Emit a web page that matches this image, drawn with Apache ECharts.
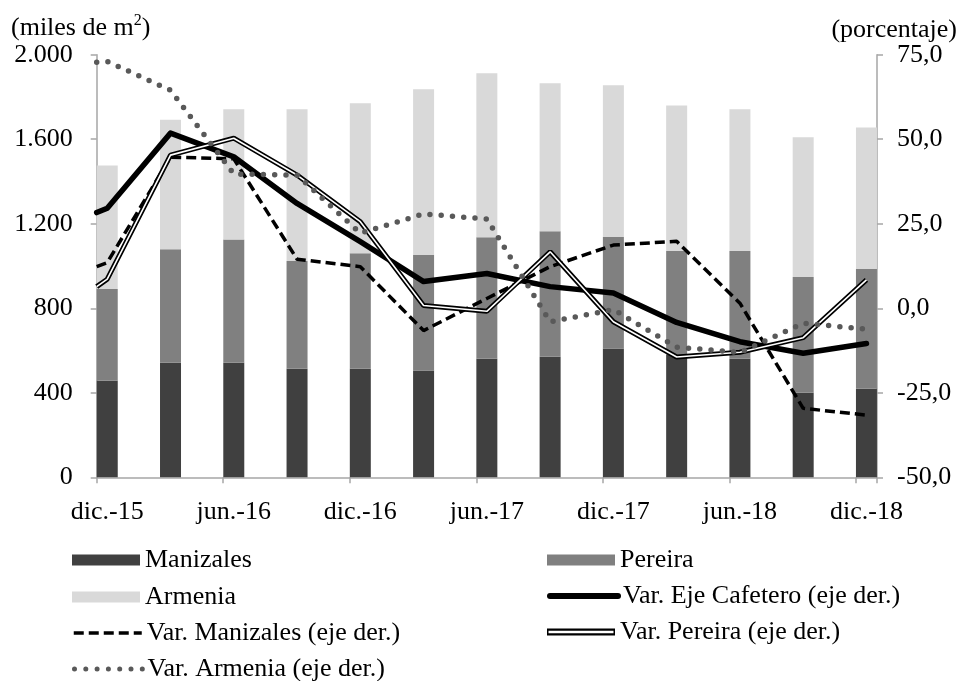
<!DOCTYPE html>
<html>
<head>
<meta charset="utf-8">
<script src="https://cdn.jsdelivr.net/npm/echarts@6/dist/echarts.min.js"></script>
<style>
html,body{margin:0;padding:0;background:#fff;}
#chart{width:965px;height:681px;}
</style>
</head>
<body>
<div id="chart"></div>
<script>
// Trimestres (barras)
const categories = ['dic.-15','mar.-16','jun.-16','sep.-16','dic.-16','mar.-17','jun.-17','sep.-17','dic.-17','mar.-18','jun.-18','sep.-18','dic.-18'];
// Etiquetas del eje X (cada 6 meses)
const tickLabels = ['dic.-15','jun.-16','dic.-16','jun.-17','dic.-17','jun.-18','dic.-18'];
// Área (miles de m2)
const manizales = [457, 542, 542, 514, 514, 505, 561, 571, 609, 579, 561, 400, 419];
const pereira   = [434, 537, 584, 510, 546, 547, 575, 593, 528, 492, 510, 548, 567];
const armenia   = [585, 613, 616, 718, 710, 784, 776, 701, 718, 689, 671, 661, 670];
// Variaciones anuales (%), eje derecho
const varEje       = [29.6, 51.8, 44.8, 31.0, 19.7, 7.9, 10.3, 6.4, 4.5, -4.2, -9.9, -13.3, -10.4];
const varManizales = [13.5, 44.7, 44.2, 14.5, 12.3, -6.6, 2.9, 12.3, 18.7, 19.8, 1.5, -29.6, -31.6];
const varPereira   = [8.6, 45.3, 50.3, 39.4, 25.6, 0.8, -0.9, 16.7, -4.0, -14.4, -13.0, -8.7, 8.4];
const varArmenia   = [73.0, 64.5, 39.7, 39.4, 22.2, 27.9, 26.4, -4.0, -0.4, -11.5, -13.1, -4.4, -6.2];
// Valor de cada línea en el borde izquierdo del eje (Eje, Manizales, Pereira, Armenia)
const varInicio = [28.3, 12.3, 6.4, 72.8];

const FONT = 'Liberation Serif';
const FS = 26;
const AXIS_COLOR = '#a6a6a6';
const MQ = 3; // meses por trimestre
const nMonths = (categories.length - 1) * MQ + 1;

// eje mensual: cada trimestre ocupa su mes; los demás meses vacíos
const monthCats = Array.from({length: nMonths}, (_, m) => m % MQ === 0 ? categories[m / MQ] : '');
const monthly = arr => Array.from({length: nMonths}, (_, m) => m % MQ === 0 ? arr[m / MQ] : null);
const posOf = i => i * MQ + 0.5;
const lineData = (arr, start) => [[0, start]].concat(arr.map((v, i) => [posOf(i), v]));

const chart = echarts.init(document.getElementById('chart'), null, {renderer: 'canvas'});

const textBase = {fontFamily: FONT, fontSize: FS, color: '#000', fontWeight: 'normal'};

// una leyenda por elemento para fijar la cuadrícula de 2 columnas
const legendItem = (name, left, top, extra) => Object.assign({
  left: left, top: top, padding: 0, orient: 'horizontal',
  itemWidth: 68, itemHeight: 11,
  textStyle: textBase,
  data: [name]
}, extra || {});
const lineLegend = (w) => ({itemStyle: {opacity: 0}, lineStyle: {width: w}});

const option = {
  animation: false,
  backgroundColor: '#fff',
  title: [
    {
      left: 6, top: 8,
      text: '{a|(miles de m}{s|2}{a|)}',
      textStyle: {
        fontWeight: 'normal',
        rich: {
          a: {fontFamily: FONT, fontSize: FS, color: '#000', fontWeight: 'normal'},
          s: {fontFamily: FONT, fontSize: 16, color: '#000', fontWeight: 'normal', padding: [0, 0, 14, 0]}
        }
      }
    },
    {
      right: 3, top: 12,
      text: '(porcentaje)',
      textStyle: {fontFamily: FONT, fontSize: FS, fontWeight: 'normal', color: '#000'}
    }
  ],
  grid: {left: 96.7, right: 88, top: 54.7, bottom: 203.7, containLabel: false},
  legend: [
    legendItem('Manizales', 72, 547, {data: [{name: 'Manizales', icon: 'rect'}]}),
    legendItem('Armenia', 72, 584, {data: [{name: 'Armenia', icon: 'rect'}]}),
    legendItem('Var. Manizales (eje der.)', 72, 620, lineLegend(3.5)),
    legendItem('Var. Armenia (eje der.)', 72, 656, lineLegend(5)),
    legendItem('Pereira', 547, 547, {data: [{name: 'Pereira', icon: 'rect'}]}),
    legendItem('Var. Eje Cafetero (eje der.)', 547, 583, lineLegend(6)),
    legendItem('Var. Pereira (eje der.)', 547, 619, {
      data: [{name: 'Var. Pereira (eje der.)', icon: 'path://M0,0H68V7H0Z M1.5,2.2V4.8H66.5V2.2Z'}]
    })
  ],
  xAxis: [
    {
      type: 'category', data: monthCats, boundaryGap: true,
      axisLine: {show: true, lineStyle: {color: AXIS_COLOR, width: 1.5}},
      axisTick: {show: true, interval: 5, alignWithLabel: false, length: 6, lineStyle: {color: AXIS_COLOR, width: 1.5}},
      splitLine: {show: false},
      axisLabel: {
        interval: 5, margin: 22, fontFamily: FONT, fontSize: FS, color: '#000',
        formatter: (v, i) => tickLabels[i / 6] !== undefined ? tickLabels[i / 6] : ''
      }
    },
    {
      type: 'value', min: 0, max: nMonths, show: false
    }
  ],
  yAxis: [
    {
      type: 'value', min: 0, max: 2000, interval: 400,
      axisLine: {show: true, lineStyle: {color: AXIS_COLOR, width: 1.5}},
      axisTick: {show: true, length: 6, lineStyle: {color: AXIS_COLOR, width: 1.5}},
      splitLine: {show: false},
      axisLabel: {
        margin: 24, fontFamily: FONT, fontSize: FS, color: '#000',
        formatter: v => v >= 1000 ? Math.floor(v / 1000) + '.' + String(v % 1000).padStart(3, '0') : String(v)
      }
    },
    {
      type: 'value', min: -50, max: 75, interval: 25, position: 'right',
      axisLine: {show: true, lineStyle: {color: AXIS_COLOR, width: 1.5}},
      axisTick: {show: true, length: 6, lineStyle: {color: AXIS_COLOR, width: 1.5}},
      splitLine: {show: false},
      axisLabel: {
        margin: 20, fontFamily: FONT, fontSize: FS, color: '#000',
        formatter: v => v.toFixed(1).replace('.', ',')
      }
    }
  ],
  series: [
    {name: 'Manizales', type: 'bar', stack: 'area', barWidth: 21, data: monthly(manizales), itemStyle: {color: '#404040'}},
    {name: 'Pereira', type: 'bar', stack: 'area', barWidth: 21, data: monthly(pereira), itemStyle: {color: '#808080'}},
    {name: 'Armenia', type: 'bar', stack: 'area', barWidth: 21, data: monthly(armenia), itemStyle: {color: '#d9d9d9'}},
    {
      name: 'Var. Eje Cafetero (eje der.)', type: 'line', xAxisIndex: 1, yAxisIndex: 1, symbol: 'none',
      data: lineData(varEje, varInicio[0]),
      itemStyle: {color: '#000'},
      lineStyle: {color: '#000', width: 5.5, cap: 'round', join: 'round'}
    },
    {
      name: 'Var. Manizales (eje der.)', type: 'line', xAxisIndex: 1, yAxisIndex: 1, symbol: 'none',
      data: lineData(varManizales, varInicio[1]),
      itemStyle: {color: '#000'},
      lineStyle: {color: '#000', width: 3.5, type: [10, 5]}
    },
    {
      name: 'Var. Pereira (eje der.)', type: 'line', xAxisIndex: 1, yAxisIndex: 1, symbol: 'none',
      data: lineData(varPereira, varInicio[2]),
      itemStyle: {color: '#000'},
      lineStyle: {color: '#000', width: 5}
    },
    {
      name: 'Pereira interior', type: 'line', xAxisIndex: 1, yAxisIndex: 1, symbol: 'none',
      data: lineData(varPereira, varInicio[2]),
      itemStyle: {color: '#fff'},
      lineStyle: {color: '#fff', width: 1.6},
      silent: true
    },
    {
      name: 'Var. Armenia (eje der.)', type: 'line', xAxisIndex: 1, yAxisIndex: 1, symbol: 'none',
      data: lineData(varArmenia, varInicio[3]),
      itemStyle: {color: '#595959'},
      lineStyle: {color: '#595959', width: 5.5, type: [0, 11.3], cap: 'round'}
    }
  ]
};
chart.setOption(option);
</script>
</body>
</html>
